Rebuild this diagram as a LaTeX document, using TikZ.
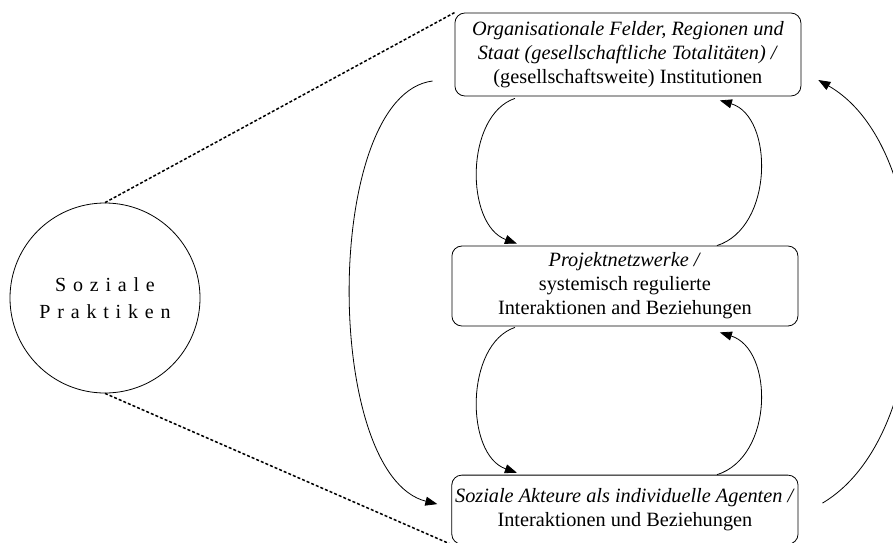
\documentclass[tikz,border=0pt]{standalone}
\usepackage{fontspec}
\setmainfont{Liberation Serif}
\usepackage{tikz}
\usetikzlibrary{shapes.geometric, arrows.meta, positioning}
\tikzstyle{level} = [rectangle, rounded corners=10pt, minimum width=346pt, text centered, align=center, draw=black, line width=0.8pt, font=\fontsize{20.3}{24}\selectfont]
\tikzstyle{praxis} = [circle, minimum size=190pt, text centered, align=center, draw=black, line width=0.8pt, font=\fontsize{20}{27}\selectfont\addfontfeatures{LetterSpace=34}]
\tikzset{arw/.style={-{Triangle[length=12pt,width=9pt]},line width=0.8pt}}
\tikzset{lnk/.style={line width=1.5pt,dash pattern=on 3pt off 2pt}}

\begin{document}
\begin{tikzpicture}[node distance=2cm]
			\useasboundingbox (-105pt,298pt) rectangle (788pt,-244pt);
			\node (prax) [praxis] {Soziale\\Praktiken};
			\node (org) [level, right of = prax, xshift = 466pt, yshift = 243.5pt, minimum height = 83pt]
			{\textit{Organisationale Felder, Regionen und}\\\textit{Staat (gesellschaftliche Totalitäten) /}\\(gesellschaftsweite) Institutionen};
			\node (proj) [level, below of = org, xshift = -3pt, yshift = -174.6pt, minimum height = 80pt]
			{\textit{Projektnetzwerke /}\\systemisch regulierte\\Interaktionen and Beziehungen};
			\node (soz) [level, below of = proj, yshift = -166.7pt, minimum height = 69pt]
			{\textit{Soziale Akteure als individuelle Agenten /}\\Interaktionen und Beziehungen};
			
			
			\draw [lnk] (prax.north) -- (org.north west);
			\draw [lnk] (prax.south) -- (soz.south west);
			\draw [arw] ([xshift=-22pt,yshift=-26.5pt]org.west) .. controls +(-110pt,-14pt) and +(-115pt,29pt) .. ([xshift=-14pt,yshift=5.5pt]soz.west);
			\draw [arw] ([xshift=24pt,yshift=6.5pt]soz.east) .. controls +(118pt,70pt) and +(122pt,-70pt) .. ([xshift=17pt,yshift=-25.5pt]org.east);
			\draw [arw] ([xshift=-113pt,yshift=-2pt]org.south) .. controls +(-50pt,-17pt) and +(-52pt,19pt) .. ([xshift=-108pt,yshift=2pt]proj.north);
			\draw [arw] ([xshift=92pt]proj.north) .. controls +(57pt,18pt) and +(54pt,-16pt) .. ([xshift=92pt,yshift=-4pt]org.south);
			\draw [arw] ([xshift=-110pt,yshift=-1pt]proj.south) .. controls +(-50pt,-17pt) and +(-52pt,18pt) .. ([xshift=-108pt,yshift=2pt]soz.north);
			\draw [arw] ([xshift=92pt]soz.north) .. controls +(57pt,18pt) and +(54pt,-17pt) .. ([xshift=95pt,yshift=-6pt]proj.south);
			
			
\end{tikzpicture}
\end{document}
